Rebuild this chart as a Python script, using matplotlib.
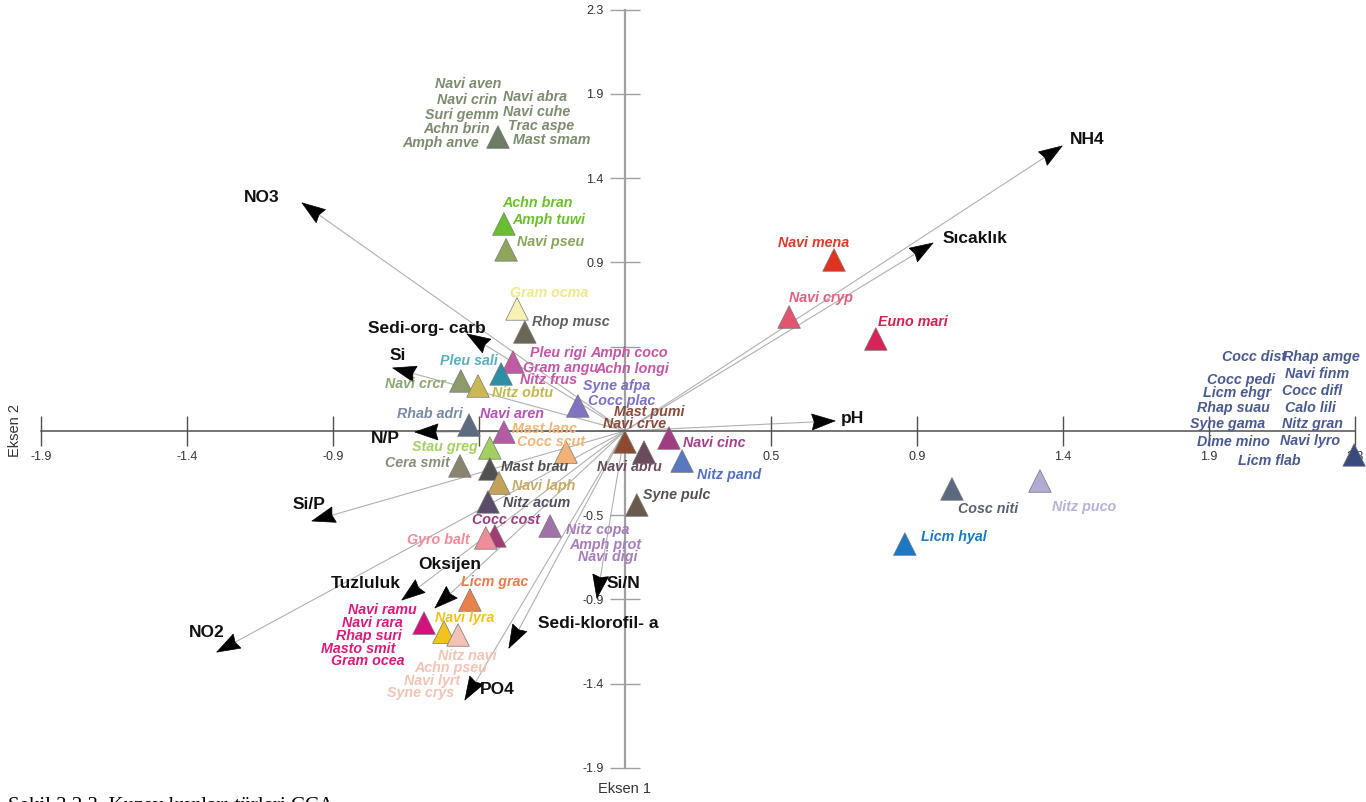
import numpy as np
import matplotlib
matplotlib.use("Agg")
import matplotlib.pyplot as plt
from matplotlib.patches import Polygon

plt.rcParams['font.family'] = ['Liberation Sans', 'DejaVu Sans']

# cevresel degiskenler (ok uclari, eksen 1 / eksen 2)
env_names = ['NH4', 'Sıcaklık', 'pH', 'NO3', 'Sedi-org- carb', 'Si', 'N/P', 'Si/P',
             'Tuzluluk', 'Oksijen', 'NO2', 'PO4', 'Sedi-klorofil- a', 'Si/N']
env_x = [1.401, 0.987, 0.673, -1.035, -0.506, -0.744, -0.673, -1.003,
         -0.715, -0.609, -1.308, -0.513, -0.372, -0.090]
env_y = [1.583, 1.044, 0.056, 1.267, 0.539, 0.350, -0.006, -0.500,
         -0.939, -0.983, -1.228, -1.494, -1.206, -0.928]
# etiket kaydirma (piksel)
env_off = [(25, 6), (42, 5), (17, 2), (-40, 5), (-40, 5), (5, 12), (-30, -6), (-3, 16),
           (-36, 17), (15, 43), (-10, 20), (32, 10), (89, 25), (27, 15)]

# tur noktalari
sp_x = [-0.407, -0.388, -0.381, -0.346, -0.321, -0.359, -0.397, -0.526, -0.471, -0.151,
        -0.500, -0.388, -0.189, -0.433, -0.529, -0.433, -0.404, -0.439, -0.417, -0.446,
        -0.240, 0.000, 0.061, 0.141, 0.183, 0.038, -0.497, -0.644, -0.580, -0.535,
        0.670, 0.526, 0.804, 1.048, 1.330, 0.897, 2.337]
sp_y = [1.633, 1.150, 1.006, 0.678, 0.550, 0.383, 0.317, 0.278, 0.250, 0.139,
        0.033, -0.006, -0.117, -0.094, -0.194, -0.211, -0.289, -0.394, -0.583, -0.594,
        -0.528, -0.061, -0.117, -0.039, -0.167, -0.411, -0.939, -1.067, -1.117, -1.133,
        0.950, 0.633, 0.511, -0.322, -0.278, -0.628, -0.133]
sp_col = ['#6e7c63', '#6abf2e', '#8ea65c', '#f7f2b4', '#6b6656', '#c05aa3', '#2d8fa3',
          '#8c9a6c', '#c9b955', '#8272c2', '#5b6b80', '#b35ba3', '#f2b277', '#a3cf63',
          '#8a8370', '#515151', '#c4a257', '#5b4b6b', '#a23b72', '#f08d9a', '#a172a9',
          '#8b4a31', '#6b4a5b', '#a23c82', '#5a78c2', '#6a5a4c', '#e9814b', '#d4117c',
          '#f2c21f', '#f2c2b4', '#e0321f', '#e2546f', '#d92255', '#5b6a80', '#b3abd3',
          '#1b78c2', '#3b4a7c']
lab_col = ['#7d8c6f', '#6cc02c', '#8aa65a', '#f0e98a', '#5f5f5f', '#c455a8', '#5aaec0',
           '#8aa872', '#c6b650', '#7a70c4', '#7a8aa2', '#b652b8', '#f2b578', '#a4d062',
           '#8c8c7c', '#505050', '#c9aa62', '#4f4f5f', '#9c3c82', '#f08b9c', '#a87cbc',
           '#8b4a3a', '#6a4a5c', '#a2408c', '#5272c2', '#5a5050', '#e87a4c', '#d81b7c',
           '#f2c21c', '#f5c4b4', '#e03a2a', '#e3607e', '#d8204e', '#5a6272', '#b9b2da',
           '#1a7ac2', '#4a5a92']
# her nokta icin tur adlari ve etiket kaydirma (piksel)
sp_labels = [
    [('Navi aven', -63, 53), ('Navi crin', -61, 37), ('Suri gemm', -73, 22),
     ('Achn brin', -75, 8), ('Amph anve', -96, -6), ('Navi abra', 5, 40),
     ('Navi cuhe', 5, 25), ('Trac aspe', 10, 11), ('Mast smam', 15, -3)],
    [('Achn bran', -2, 21), ('Amph tuwi', 8, 4)],
    [('Navi pseu', 11, 8)],
    [('Gram ocma', -7, 16)],
    [('Rhop musc', 7, 10)],
    [('Pleu rigi', 17, 9), ('Gram angu', 10, -6), ('Nitz frus', 7, -18),
     ('Amph coco', 77, 9), ('Achn longi', 82, -7)],
    [('Pleu sali', -61, 13)],
    [('Navi crcr', -76, -3)],
    [('Nitz obtu', 14, -7)],
    [('Syne afpa', 5, 20), ('Cocc plac', 10, 5)],
    [('Rhab adri', -72, 11)],
    [('Navi aren', -24, 18)],
    [('Mast lanc', -54, 23), ('Cocc scut', -49, 10)],
    [('Stau greg', -78, 1)],
    [('Cera smit', -75, 3)],
    [('Mast brau', 11, 2)],
    [('Navi laph', 13, -3)],
    [('Nitz acum', 15, -1)],
    [('Cocc cost', -23, 16)],
    [('Gyro balt', -79, -2)],
    [('Nitz copa', 16, -4), ('Amph prot', 19, -19), ('Navi digi', 28, -31)],
    [('Mast pumi', -11, 30), ('Navi crve', -22, 18)],
    [('Navi abru', -47, -15)],
    [('Navi cinc', 14, -5)],
    [('Nitz pand', 15, -14)],
    [('Syne pulc', 6, 10)],
    [('Licm grac', -9, 18)],
    [('Navi ramu', -76, 13), ('Navi rara', -82, 0), ('Rhap suri', -88, -13),
     ('Masto smit', -103, -26), ('Gram ocea', -93, -38)],
    [('Navi lyra', -9, 14)],
    [('Nitz navi', -20, -21), ('Achn pseu', -44, -33), ('Navi lyrt', -54, -46),
     ('Syne crys', -71, -58)],
    [('Navi mena', -56, 17)],
    [('Navi cryp', 0, 19)],
    [('Euno mari', 2, 17)],
    [('Cosc niti', 6, -20)],
    [('Nitz puco', 12, -26)],
    [('Licm hyal', 16, 7)],
    [('Cocc dist', -132, 98), ('Cocc pedi', -147, 75), ('Licm ehgr', -151, 62),
     ('Rhap suau', -157, 47), ('Syne gama', -164, 31), ('Dime mino', -157, 13),
     ('Licm flab', -116, -6), ('Rhap amge', -71, 98), ('Navi finm', -69, 81),
     ('Cocc difl', -72, 64), ('Calo lili', -69, 47), ('Nitz gran', -72, 31),
     ('Navi lyro', -74, 14)],
]

# eksen isaretleri (sifir yok)
tick_step = 0.468
x_ticks = tick_step * np.array([-4, -3, -2, -1, 1, 2, 3, 4, 5])
y_ticks = tick_step * np.array([-4, -3, -2, -1, 1, 2, 3, 4, 5])
x_hidden = [-0.468]
y_hidden = [0.468]

fig = plt.figure(figsize=(13.66, 8.02), dpi=100)
ax = fig.add_axes([0, 0, 1, 1])
ax.set_xlim(-2.003, 2.375)
ax.set_ylim(-2.061, 2.394)

for s in ['top', 'right']:
    ax.spines[s].set_visible(False)
ax.spines['bottom'].set_position(('data', 0))
ax.spines['left'].set_position(('data', 0))
ax.spines['bottom'].set_bounds(x_ticks[0], x_ticks[-1])
ax.spines['left'].set_bounds(y_ticks[0], y_ticks[-1])
ax.spines['bottom'].set_color('#505050')
ax.spines['left'].set_color('#a0a0a0')
ax.spines['bottom'].set_linewidth(1.1)
ax.spines['left'].set_linewidth(1.6)

ax.set_xticks(x_ticks)
ax.set_xticklabels(['' if np.isclose(v, x_hidden).any() else f'{v:.1f}' for v in x_ticks])
ax.set_yticks(y_ticks)
ax.set_yticklabels(['' if np.isclose(v, y_hidden).any() else f'{v:.1f}' for v in y_ticks])
ax.tick_params(axis='x', direction='inout', length=21, width=1.0, color='#505050',
               pad=4, labelsize=9, labelcolor='#333333')
ax.tick_params(axis='y', direction='inout', length=21, width=1.0, color='#a0a0a0',
               pad=5, labelsize=9, labelcolor='#333333')

fig.text(0.011, 0.463, 'Eksen 2', rotation=90, ha='center', va='center',
         fontsize=10.5, color='#333333')
fig.text(0.4575, 0.016, 'Eksen 1', ha='center', va='center', fontsize=10.5,
         color='#333333')
# sayfadaki sekil yazisi, alt kenarda kesik
fig.text(0.006, -0.006, 'Şekil 3.2.3. Kuzey kıyıları türleri CCA', ha='left',
         va='center', fontsize=15, family='Liberation Serif', color='black')

# oklar
to_px = ax.transData.transform
from_px = ax.transData.inverted().transform
o = to_px((0, 0))
L, W = 23, 16
for name, x, y, (dx, dy) in zip(env_names, env_x, env_y, env_off):
    ax.plot([0, x], [0, y], color='#b0b0b0', lw=0.8, zorder=1)
    t = to_px((x, y))
    u = (t - o) / np.hypot(*(t - o))
    n = np.array([-u[1], u[0]])
    pts = np.array([t, t - L * u + W / 2 * n, t - 0.9 * L * u, t - L * u - W / 2 * n])
    ax.add_patch(Polygon(from_px(pts), closed=True, fc='black', ec='black',
                         lw=0.5, zorder=4))
    ax.annotate(name, (x, y), xytext=(dx, dy), textcoords='offset pixels',
                ha='center', va='center', fontsize=12.5, fontweight='bold',
                color='#111111', zorder=6)

# turler
ax.scatter(sp_x, sp_y, marker='^', s=265, c=sp_col, edgecolors='#777777',
           linewidths=0.5, zorder=3)
for x, y, labs, col in zip(sp_x, sp_y, sp_labels, lab_col):
    for txt, dx, dy in labs:
        ax.annotate(txt, (x, y), xytext=(dx, dy), textcoords='offset pixels',
                    ha='left', va='center', fontsize=10.3, fontweight='bold',
                    fontstyle='italic', color=col, zorder=5)

fig.savefig('out.png', dpi=100)
